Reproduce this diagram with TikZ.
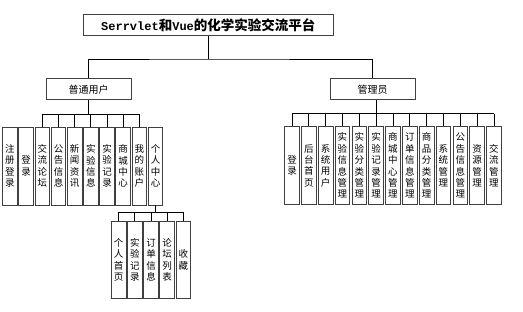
\documentclass[tikz,border=0pt]{standalone}
\usepackage{fontspec}
\newfontfamily\cjk{Noto Sans CJK SC}
\newfontfamily\lmono{Liberation Mono}
\begin{document}
\begin{tikzpicture}[x=1pt,y=-1pt,
  box/.style={draw=black!75, line width=0.8pt, fill=white, inner sep=0pt, align=center,
    font=\cjk\fontsize{9.5}{11.4}\selectfont},
  vbox/.style={box, minimum width=14.7pt, minimum height=78pt},
  conn/.style={draw=black, line width=0.8pt}]
\useasboundingbox (0,0) rectangle (523,312);
% top levels
\node[box, line width=1pt, minimum width=249.5pt, minimum height=21pt] (title) at (208.3,25.5)
  {{\lmono\fontsize{12}{14}\selectfont\bfseries Serrvlet}{\cjk\fontsize{13.5}{15}\selectfont\bfseries 和}{\lmono\fontsize{12}{14}\selectfont\bfseries Vue}{\cjk\fontsize{13.5}{15}\selectfont\bfseries 的化学实验交流平台}};
\node[box, line width=1pt, minimum width=85pt, minimum height=21pt, font=\cjk\fontsize{10}{12}\selectfont] (user) at (88.5,89.5) {普通用户};
\node[box, line width=1pt, minimum width=85pt, minimum height=21pt, font=\cjk\fontsize{10}{12}\selectfont] (admin) at (372.5,89.5) {管理员};
% user children
\foreach \t [count=\i] in {{注\\册\\登\\录},{登\\录},{交\\流\\论\\坛},{公\\告\\信\\息},{新\\闻\\资\\讯},{实\\验\\信\\息},{实\\验\\记\\录},{商\\城\\中\\心},{我\\的\\账\\户},{个\\人\\中\\心}}
  \node[vbox] (L\i) at ({10+16.17*(\i-1)},166) {\t};
% admin children
\foreach \t [count=\i] in {{登\\录},{后\\台\\首\\页},{系\\统\\用\\户},{实\\验\\信\\息\\管\\理},{实\\验\\分\\类\\管\\理},{实\\验\\记\\录\\管\\理},{商\\城\\中\\心\\管\\理},{订\\单\\信\\息\\管\\理},{商\\品\\分\\类\\管\\理},{系\\统\\管\\理},{公\\告\\信\\息\\管\\理},{资\\源\\管\\理},{交\\流\\管\\理}}
  \node[vbox] (R\i) at ({292+16.83*(\i-1)},165.7) {\t};
% personal center children
\foreach \t [count=\i] in {{个\\人\\首\\页},{实\\验\\记\\录},{订\\单\\信\\息},{论\\坛\\列\\表},{收\\藏}}
  \node[vbox, minimum height=77.7pt] (S\i) at ({118.7+16.15*(\i-1)},259.8) {\t};
% connectors: top
\coordinate (tb) at (208.3,59);
\draw[conn] (title.south) -- (tb);
\draw[conn] (user.north) |- (tb) -| (admin.north);
% user branch
\coordinate (ub) at (88.7,114.3);
\draw[conn] (user.south) -- (user.south |- ub);
\draw[conn] (L3.north |- ub) -- (L9.north |- ub);
\foreach \i in {3,...,9} \draw[conn] (L\i.north) -- (L\i.north |- ub);
% admin branch
\coordinate (ab) at (376.7,113.7);
\draw[conn] ([xshift=4.2pt]admin.south) -- ([xshift=4.2pt]admin.south |- ab);
\draw[conn] (R1.north |- ab) -- (R13.north |- ab);
\foreach \i in {1,...,13} \draw[conn] (R\i.north) -- (R\i.north |- ab);
% personal center branch
\coordinate (sb) at (155.7,212);
\draw[conn] (L10.south) -- (L10.south |- sb);
\draw[conn] (S1.north |- sb) -- (S5.north |- sb);
\foreach \i in {1,...,5} \draw[conn] (S\i.north) -- (S\i.north |- sb);
\end{tikzpicture}
\end{document}
